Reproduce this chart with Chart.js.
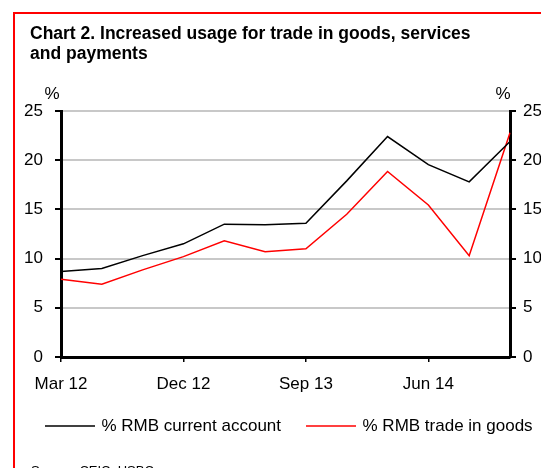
<!DOCTYPE html>
<html>
<head>
<meta charset="utf-8">
<script src="https://cdn.jsdelivr.net/npm/chart.js@4.4.1/dist/chart.umd.min.js"></script>
<style>
  html, body { margin: 0; padding: 0; background: #fff; overflow: hidden; }
  #wrap { width: 541px; height: 468px; position: relative; }
</style>
</head>
<body>
<div id="wrap"><canvas id="c" width="541" height="468"></canvas></div>
<script>
// Quarterly RMB settlement shares, %
const quarters = ['Mar 12', 'Jun 12', 'Sep 12', 'Dec 12', 'Mar 13', 'Jun 13',
                  'Sep 13', 'Dec 13', 'Mar 14', 'Jun 14', 'Sep 14', 'Dec 14'];
const currentAccount = [8.7, 9.0, 10.3, 11.5, 13.5, 13.45, 13.6, 17.9, 22.4, 19.55, 17.8, 21.9];
const tradeInGoods   = [7.9, 7.4, 8.85, 10.2, 11.8, 10.7, 11.0, 14.5, 18.85, 15.45, 10.3, 22.8];
const seriesNames = ['% RMB current account', '% RMB trade in goods'];
const yMin = 0, yMax = 25, yStep = 5;

const titleLines = ['Chart 2. Increased usage for trade in goods, services', 'and payments'];
const sourceText = 'Source: CEIC, HSBC';

const FONT = '"Liberation Sans", Arial, sans-serif';

// Frame, heading, unit markers, series key and source note
const decorations = {
  id: 'decorations',
  afterDraw(chart) {
    const ctx = chart.ctx;
    ctx.save();
    ctx.strokeStyle = '#ff0000';
    ctx.lineWidth = 2;
    ctx.beginPath();
    ctx.moveTo(14, 480);
    ctx.lineTo(14, 13);
    ctx.lineTo(541, 13);
    ctx.stroke();

    ctx.fillStyle = '#000';
    ctx.textBaseline = 'alphabetic';
    ctx.textAlign = 'left';
    ctx.font = 'bold 17.5px ' + FONT;
    ctx.fillText(titleLines[0], 30, 38.5);
    ctx.fillText(titleLines[1], 30, 59);

    ctx.font = '17px ' + FONT;
    ctx.textAlign = 'center';
    ctx.fillText('%', 52, 99);
    ctx.fillText('%', 503, 99);

    // series key, laid out in a single row
    ctx.textAlign = 'left';
    ctx.textBaseline = 'middle';
    let x = 45;
    const y = 426;
    chart.data.datasets.forEach(ds => {
      ctx.strokeStyle = ds.borderColor;
      ctx.lineWidth = ds.borderWidth;
      ctx.beginPath();
      ctx.moveTo(x, y);
      ctx.lineTo(x + 50, y);
      ctx.stroke();
      x += 50 + 6.5;
      ctx.fillText(ds.label, x, y);
      x += ctx.measureText(ds.label).width + 25;
    });

    ctx.textBaseline = 'alphabetic';
    ctx.font = '13px ' + FONT;
    ctx.fillText(sourceText, 31, 475);
    ctx.restore();
  }
};

const tickFont = { family: FONT, size: 17 };

new Chart(document.getElementById('c'), {
  type: 'line',
  data: {
    labels: quarters,
    datasets: [
      { label: seriesNames[0], data: currentAccount, borderColor: '#000000', backgroundColor: '#000000',
        borderWidth: 1.5, pointRadius: 0, tension: 0, yAxisID: 'y' },
      { label: seriesNames[1], data: tradeInGoods, borderColor: '#ff0000', backgroundColor: '#ff0000',
        borderWidth: 1.5, pointRadius: 0, tension: 0, yAxisID: 'y' }
    ]
  },
  options: {
    responsive: false,
    animation: false,
    devicePixelRatio: 1,
    layout: { padding: { left: 20, right: 0, top: 111, bottom: 75.5 } },
    plugins: {
      title: { display: false },
      tooltip: { enabled: false },
      legend: { display: false }
    },
    scales: {
      x: {
        type: 'category',
        offset: false,
        afterFit(scale) { scale.height = 35.5; },
        grid: { display: true, drawOnChartArea: false, drawTicks: true, tickLength: 5,
                color: '#000', lineWidth: 1.5 },
        border: { display: true, color: '#000', width: 3 },
        ticks: {
          autoSkip: false, maxRotation: 0, minRotation: 0, padding: 12,
          color: '#000', font: tickFont,
          callback: (v, i) => (i % 3 === 0 ? quarters[i] : null)
        }
      },
      y: {
        position: 'left',
        min: yMin, max: yMax,
        afterFit(scale) { scale.width = 41; },
        grid: { display: true, drawOnChartArea: true, drawTicks: true, tickLength: 6,
                color: '#c8c8c8', tickColor: '#000', lineWidth: 2 },
        border: { display: true, color: '#000', width: 3 },
        ticks: { stepSize: yStep, padding: 12, color: '#000', font: tickFont }
      },
      y2: {
        position: 'right',
        min: yMin, max: yMax,
        afterFit(scale) { scale.width = 31; },
        grid: { display: true, drawOnChartArea: false, drawTicks: true, tickLength: 6,
                color: '#000', lineWidth: 2 },
        border: { display: true, color: '#000', width: 3 },
        ticks: { stepSize: yStep, padding: 7, color: '#000', font: tickFont }
      }
    }
  },
  plugins: [decorations]
});
</script>
</body>
</html>
